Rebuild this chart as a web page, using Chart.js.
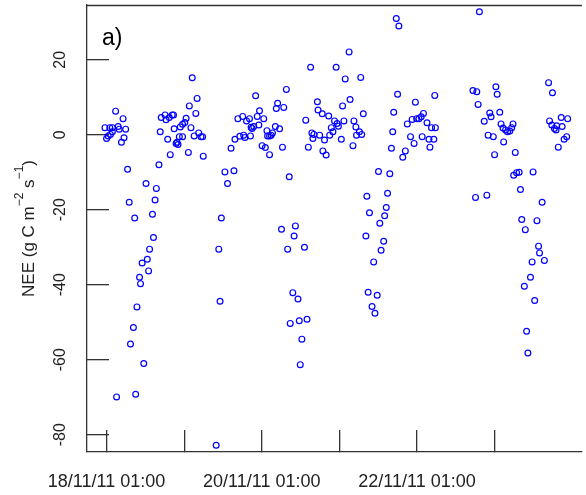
<!DOCTYPE html>
<html>
<head>
<meta charset="utf-8">
<script src="https://cdn.jsdelivr.net/npm/chart.js@4.4.0/dist/chart.umd.min.js"></script>
<style>
    html, body {
        margin: 0;
        padding: 0;
        background: #ffffff;
    }

    .chartBox {
        position: relative;
        width: 586px;
        height: 495px;
    }
</style>
</head>
<body>
<div class="chartBox">
    <canvas id="neeChart"></canvas>
</div>
<script>
    // hours since 18/11/11 01:00
    const hours = [
        -0.5, 1.0, 1.8, 3.6, 2.8, 5.1, 5.9, 3.9, 0.0, 0.5, 1.2, 1.8, 5.4, 4.6,
        6.5, 12.2, 15.4, 7.0, 15.0, 14.2, 8.7, 14.5, 13.3, 12.6, 11.0, 13.0, 10.2, 10.5, 9.4, 8.3, 7.4, 11.5, 9.0, 3.1,
        16.2, 19.7, 16.6, 18.9, 16.9, 18.1, 18.4, 20.3, 20.7, 19.4, 24.6, 24.2, 20.9, 22.8, 23.5, 26.1, 22.5, 23.5, 21.8, 22.1, 21.5, 27.1, 28.5, 29.2, 29.7, 25.3, 29.9, 28.0, 25.6, 27.6, 26.5,
        33.9, 34.7, 35.1, 35.5, 37.4, 36.6, 39.4, 38.5, 39.7,
        40.6, 42.1, 43.3, 44.2, 42.4, 41.2, 42.8, 44.5, 44.7, 45.0, 45.5, 47.1, 46.1, 47.3, 46.6, 48.6, 48.1, 49.1, 49.6, 51.3, 50.9, 49.8, 50.4, 52.2, 53.5, 52.9, 52.5, 54.8, 55.6, 54.4, 50.4,
        56.5, 54.1, 58.4, 58.0, 56.0, 61.2, 57.6, 59.2, 56.8, 59.6, 62.0, 60.4, 59.9,
        61.6, 62.4, 63.1, 63.5, 64.1, 63.8, 65.2, 65.4, 66.7, 68.7, 65.9, 67.4, 66.9, 67.9, 69.0, 69.5, 70.0, 70.5, 71.3, 71.7, 71.0, 72.6, 73.0, 73.4, 73.8, 75.0, 75.3, 76.2, 76.5, 77.1, 77.3, 78.2, 78.9, 78.6, 79.4,
        80.2, 80.5, 80.9, 81.3, 82.1, 82.6, 83.0, 83.7, 84.1, 84.5, 84.9, 85.7, 86.0, 86.5, 86.9, 87.6,
        88.1, 88.5, 88.8, 89.6, 90.4, 90.0, 91.6, 92.4, 93.0, 94.0, 94.5, 95.1, 95.5, 95.9, 96.6, 97.3, 98.0, 97.6, 99.1, 99.7, 100.0, 100.5, 101.2, 101.7, 101.5,
        113.3, 114.5, 114.1, 114.9, 115.3, 116.8, 117.6, 118.0, 118.5, 118.9, 119.6, 120.0, 120.4, 120.8, 121.6, 122.0, 122.6, 122.8, 123.4, 124.0, 124.7, 125.3, 125.7, 126.4,
        125.9, 126.8, 127.6, 128.0, 128.4, 129.5, 129.2, 129.9, 130.3, 131.1, 131.6, 131.9, 132.4, 133.1, 133.6, 133.9, 134.7, 135.4,
        136.7, 137.9, 137.0, 137.7, 138.5, 139.0, 139.2, 140.9, 140.6, 142.6, 142.3, 141.5, 139.7
    ];

    // NEE (g C m-2 s-1)
    const nee = [
        1.9, 1.9, 1.9, 2.2, 6.3, 4.3, 1.5, 1.5, -1.0, -0.3, 0.1, 0.8, -0.8, -2.0,
        -9.2, -13.0, -14.3, -18.0, -17.4, -21.2, -22.2, -27.4, -30.5, -33.2, -34.2, -36.3, -38.0, -39.7, -45.9, -51.4, -55.8, -61.0, -69.2, -69.9,
        -8.0, -5.3, 0.8, -1.2, 4.6, 5.3, 4.0, 5.3, 5.3, 4.6, 4.4, 3.3, 1.6, 2.1, 2.8, 1.9, -0.5, -0.5, -2.0, -2.6, -2.3, -0.3, 0.5, -0.5, -0.5, -4.7, -5.7, 9.7, 7.7, 5.7, 15.2,
        -82.8, -30.5, -44.4, -22.2, -13.0, -9.9, -9.6, -3.6, -1.2,
        4.3, 4.9, 3.7, 4.3, -0.1, -0.4, -0.7, -0.3, 2.0, 1.7, 2.2, 2.6, 10.4, 6.4, 4.9, 4.3, -2.9, -3.4, 1.1, 0.5, -0.1, -0.3, -0.3, 2.2, 1.6, 8.4, 7.0, 7.3, 12.1, -3.3, -5.3,
        -11.2, -25.2, -24.3, -27.0, -30.5, -30.0, -42.1, -43.8, -50.3, -49.6, -49.2, -54.5, -61.3,
        3.9, -3.3, 18.0, 0.5, 0.1, -1.0, 8.8, 6.6, 5.6, 5.0, -0.1, -1.4, -4.3, -5.4, -0.1, 1.9, 0.8, 3.7, 3.0, 2.3, 18.0, -1.2, 7.7, 3.7, 14.9, 22.1, 9.4, -2.9, 3.7, 2.1, -0.1, 0.8, 0.1, 15.3, 5.6,
        -27.0, -16.4, -42.0, -20.8, -45.8, -33.9, -47.6, -42.8, -9.8, -23.6, -30.8, -28.4, -21.6, -19.4, -15.6, -10.4,
        -3.6, 0.8, 6.0, 31.0, 29.0, 10.8, -6.0, -4.3, 2.9, -0.5, 4.1, -2.3, 8.7, 4.3, 4.3, 4.8, 5.7, -0.5, 3.2, -1.2, -3.3, 1.9, -1.2, 1.9, 10.5,
        11.8, 11.5, -16.7, 8.1, 32.8, 3.6, -16.1, -0.1, 5.8, 4.8, -0.5, -5.3, 12.8, 10.8, 6.0, 2.9, 1.8, -1.9, 1.3, 0.8, 1.0, 1.9, 2.9, -4.7,
        -10.8, -10.1, -10.0, -14.6, -22.6, -25.3, -40.4, -52.4, -58.2, -38.0, -33.9, -9.9, -44.2, -22.9, -29.7, -31.5, -18.0, -33.5,
        13.9, 11.2, 3.7, 2.6, 1.7, 1.3, 2.4, 2.2, 4.6, 4.3, -0.5, -1.2, -3.3
    ];

    const xTickHours = [0, 24, 48, 72, 96, 120];
    const xTickLabels = ['18/11/11 01:00', '', '20/11/11 01:00', '', '22/11/11 01:00', ''];
    const yTickValues = [-80, -60, -40, -20, 0, 20];

    const axisColor = '#333333';
    const textColor = '#222222';

    const points = hours.map((h, i) => ({ x: h, y: nee[i] }));

    // top frame line, panel letter and the y title with superscripts
    const extras = {
        id: 'extras',
        afterDraw(chart) {
            const ctx = chart.ctx;
            const area = chart.chartArea;
            ctx.save();
            ctx.strokeStyle = axisColor;
            ctx.lineWidth = 1.3;
            ctx.beginPath();
            ctx.moveTo(area.left, area.top + 0.5);
            ctx.lineTo(area.right, area.top + 0.5);
            ctx.stroke();

            ctx.fillStyle = '#000000';
            ctx.font = '23px "Liberation Sans", Arial, sans-serif';
            ctx.textBaseline = 'alphabetic';
            ctx.textAlign = 'left';
            ctx.fillText('a)', 102, 45);

            const parts = [
                ['NEE (g C m', 17, 0],
                ['\u22122', 12, -11],
                [' s', 17, 0],
                ['\u22121', 12, -11],
                [')', 17, 0]
            ];
            let total = 0;
            parts.forEach(p => {
                ctx.font = p[1] + 'px "Liberation Sans", Arial, sans-serif';
                total += ctx.measureText(p[0]).width;
            });
            ctx.translate(34, (area.top + area.bottom) / 2);
            ctx.rotate(-Math.PI / 2);
            ctx.fillStyle = textColor;
            let pos = -total / 2;
            parts.forEach(p => {
                ctx.font = p[1] + 'px "Liberation Sans", Arial, sans-serif';
                ctx.fillText(p[0], pos, p[2]);
                pos += ctx.measureText(p[0]).width;
            });
            ctx.restore();
        }
    };

    new Chart('neeChart', {
        type: 'scatter',
        data: {
            datasets: [{
                data: points,
                pointStyle: 'circle',
                pointRadius: 2.9,
                pointHoverRadius: 2.9,
                pointBorderWidth: 1.2,
                borderColor: '#0000ff',
                backgroundColor: 'rgba(0,0,0,0)'
            }]
        },
        options: {
            responsive: true,
            maintainAspectRatio: false,
            animation: false,
            layout: { padding: { top: 5, left: 0, right: 0, bottom: 0 } },
            plugins: {
                legend: { display: false },
                tooltip: { enabled: false }
            },
            scales: {
                x: {
                    type: 'linear',
                    min: -6.05,
                    max: 147,
                    afterBuildTicks: s => { s.ticks = xTickHours.map(v => ({ value: v })); },
                    afterFit: s => { s.height = 43; s.paddingRight = 0; },
                    ticks: {
                        callback: v => xTickLabels[xTickHours.indexOf(v)] || '',
                        autoSkip: false,
                        maxRotation: 0,
                        minRotation: 0,
                        padding: 41,
                        color: textColor,
                        font: { family: '"Liberation Sans", Arial, sans-serif', size: 18 }
                    },
                    grid: {
                        drawOnChartArea: false,
                        drawTicks: true,
                        tickLength: -22,
                        color: axisColor,
                        lineWidth: 1.3
                    },
                    border: { display: true, color: axisColor, width: 1.3 }
                },
                y: {
                    min: -84.6,
                    max: 34.6,
                    afterBuildTicks: s => { s.ticks = yTickValues.map(v => ({ value: v })); },
                    afterFit: s => { s.width = 87; s.paddingTop = 0; s.paddingBottom = 0; },
                    ticks: {
                        minRotation: 90,
                        maxRotation: 90,
                        crossAlign: 'center',
                        padding: 37,
                        color: textColor,
                        font: { family: '"Liberation Sans", Arial, sans-serif', size: 16 }
                    },
                    grid: {
                        drawOnChartArea: false,
                        drawTicks: true,
                        tickLength: -22,
                        color: axisColor,
                        lineWidth: 1.3
                    },
                    border: { display: true, color: axisColor, width: 1.3 }
                }
            }
        },
        plugins: [extras]
    });
</script>
</body>
</html>
